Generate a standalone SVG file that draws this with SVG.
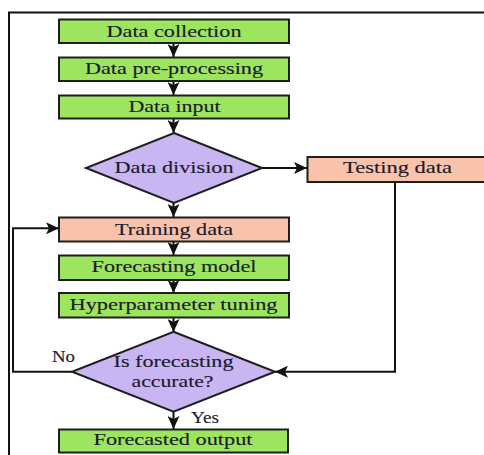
<svg xmlns="http://www.w3.org/2000/svg" width="484" height="455" viewBox="0 0 484 455">
<style>
.g{fill:#9de55f;stroke:#1e1e1e;stroke-width:2}
.s{fill:#f8c3aa;stroke:#1e1e1e;stroke-width:2}
.p{fill:#c8b5f2;stroke:#1e1e1e;stroke-width:2}
.t{font-family:"Liberation Serif","Times New Roman",serif;font-size:17.5px;fill:#1b1b2e;stroke:#1b1b2e;stroke-width:0.15;text-anchor:middle}
.l{fill:none;stroke:#111;stroke-width:2}
</style>
<defs>
<marker id="ah" markerUnits="userSpaceOnUse" markerWidth="14" markerHeight="12" refX="13" refY="6" orient="auto">
<path d="M0,0 L13,6 L0,12 L3,6 Z" fill="#111"/>
</marker>
</defs>
<rect width="484" height="455" fill="#fff"/>
<g id="frame"><polyline class="l" points="9,460 9,12.5 490,12.5"/></g>
<g id="connectors">
<line class="l" x1="173.5" y1="43" x2="173.5" y2="57" marker-end="url(#ah)"/>
<line class="l" x1="173.5" y1="81" x2="173.5" y2="95" marker-end="url(#ah)"/>
<line class="l" x1="173.5" y1="118" x2="173.5" y2="133" marker-end="url(#ah)"/>
<line class="l" x1="262" y1="168" x2="307" y2="168" marker-end="url(#ah)"/>
<line class="l" x1="173.5" y1="203" x2="173.5" y2="217" marker-end="url(#ah)"/>
<line class="l" x1="173.5" y1="242" x2="173.5" y2="255" marker-end="url(#ah)"/>
<line class="l" x1="173.5" y1="280" x2="173.5" y2="293" marker-end="url(#ah)"/>
<line class="l" x1="173.5" y1="317" x2="173.5" y2="332" marker-end="url(#ah)"/>
<line class="l" x1="173.5" y1="412" x2="173.5" y2="429" marker-end="url(#ah)"/>
<polyline class="l" points="395,182 395,371.7 275,371.7" marker-end="url(#ah)"/>
<polyline class="l" points="72,371.7 13,371.7 13,228.3 59,228.3" marker-end="url(#ah)"/>
<text class="t" x="63.5" y="361.5" textLength="23" lengthAdjust="spacingAndGlyphs">No</text>
<text class="t" x="205" y="423.3" textLength="28" lengthAdjust="spacingAndGlyphs">Yes</text>
</g>
<g id="n1"><rect class="g" x="59" y="19.5" width="230" height="23.5"/><text class="t" x="174" y="36.7" textLength="135" lengthAdjust="spacingAndGlyphs">Data collection</text></g>
<g id="n2"><rect class="g" x="59" y="57.5" width="230" height="23.5"/><text class="t" x="174" y="73.5" textLength="178" lengthAdjust="spacingAndGlyphs">Data pre-processing</text></g>
<g id="n3"><rect class="g" x="59" y="95.5" width="230" height="23"/><text class="t" x="174.5" y="111.7" textLength="92" lengthAdjust="spacingAndGlyphs">Data input</text></g>
<g id="n4"><polygon class="p" points="174,133 262,168 174,203 86,168"/><text class="t" x="174" y="173.3" textLength="119" lengthAdjust="spacingAndGlyphs">Data division</text></g>
<g id="n5"><rect class="s" x="307.5" y="157" width="185" height="25"/><text class="t" x="397.5" y="173.3" textLength="109" lengthAdjust="spacingAndGlyphs">Testing data</text></g>
<g id="n6"><rect class="s" x="59" y="217.5" width="230" height="24"/><text class="t" x="174" y="234.5" textLength="118" lengthAdjust="spacingAndGlyphs">Training data</text></g>
<g id="n7"><rect class="g" x="59" y="255.5" width="230" height="24.5"/><text class="t" x="174" y="271.7" textLength="165" lengthAdjust="spacingAndGlyphs">Forecasting model</text></g>
<g id="n8"><rect class="g" x="59" y="293" width="230" height="24.5"/><text class="t" x="173.5" y="310" textLength="208" lengthAdjust="spacingAndGlyphs">Hyperparameter tuning</text></g>
<g id="n9"><polygon class="p" points="173.5,331.7 275,371.7 173.5,411.7 72,371.7"/><text class="t" x="173.5" y="366.7" textLength="120" lengthAdjust="spacingAndGlyphs">Is forecasting</text><text class="t" x="172.5" y="386.7" textLength="82" lengthAdjust="spacingAndGlyphs">accurate?</text></g>
<g id="n10"><rect class="g" x="59" y="429.5" width="229" height="23"/><text class="t" x="173" y="445" textLength="159" lengthAdjust="spacingAndGlyphs">Forecasted output</text></g>
</svg>
